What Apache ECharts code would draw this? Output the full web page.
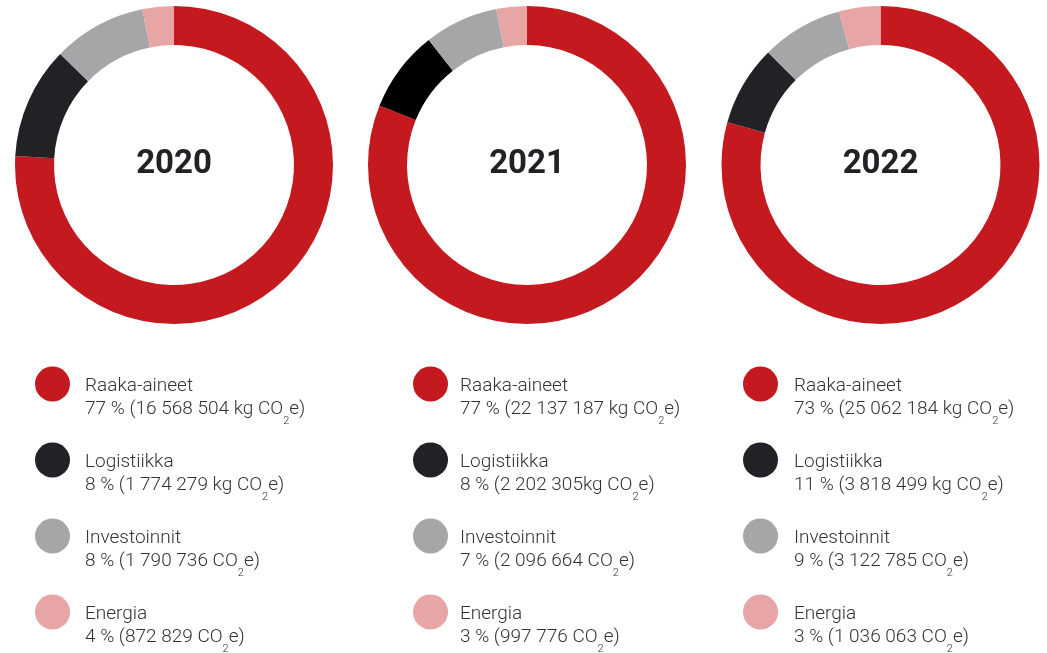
<!DOCTYPE html>
<html><head><meta charset="utf-8">
<script src="https://cdn.jsdelivr.net/npm/echarts@6/dist/echarts.min.js"></script>
<style>html,body{margin:0;padding:0;background:#fff}#c{width:1047px;height:653px}</style>
</head><body><div id="c"></div>
<script>
// ---- data ----
const years = ['2020', '2021', '2022'];
const categories = ['Raaka-aineet', 'Logistiikka', 'Investoinnit', 'Energia'];
// ring shares as drawn in each doughnut (percent of full circle)
const ring2020 = [75.9, 11.4, 9.5, 3.2];
const ring2021 = [81.1, 8.3, 7.5, 3.1];
const ring2022 = [79.4, 8.2, 8.3, 4.2];
// legend label values
const pct2020 = [77, 8, 8, 4];
const pct2021 = [77, 8, 7, 3];
const pct2022 = [73, 11, 9, 3];
const amount2020 = ['16 568 504 kg', '1 774 279 kg', '1 790 736', '872 829'];
const amount2021 = ['22 137 187 kg', '2 202 305kg', '2 096 664', '997 776'];
const amount2022 = ['25 062 184 kg', '3 818 499 kg', '3 122 785', '1 036 063'];

// ---- styles / layout ----
const rings = [ring2020, ring2021, ring2022];
const pcts = [pct2020, pct2021, pct2022];
const amounts = [amount2020, amount2021, amount2022];
const baseColors = ['#C4191E', '#222226', '#A6A6A8', '#E8A5A6'];
const ringColors = [baseColors, ['#C4191E', '#000000', '#A6A6A8', '#E8A5A6'], baseColors];
const centers = [[174, 165], [527, 165], [880.5, 165]];
const legendLeft = [35, 413, 743];
const textPad = [10, 7, 11];
const textColor = '#333336';
const FONT = 'Roboto, "Noto Sans", sans-serif';

const chart = echarts.init(document.getElementById('c'), null, {renderer: 'canvas'});

const series = years.map((y, k) => ({
  type: 'pie',
  name: y,
  center: centers[k],
  radius: [120, 159],
  startAngle: 90,
  clockwise: true,
  silent: true,
  animation: false,
  label: {show: false},
  labelLine: {show: false},
  emphasis: {disabled: true},
  itemStyle: {borderWidth: 0},
  data: categories.map((c, i) => ({name: c, value: rings[k][i], itemStyle: {color: ringColors[k][i]}}))
}));

const titles = years.map((y, k) => ({
  text: y,
  left: centers[k][0],
  top: 148,
  padding: 0,
  textAlign: 'center',
  textStyle: {fontFamily: FONT, fontWeight: 'bold', fontSize: 33, color: '#222226'}
}));

const legends = years.map((y, k) => ({
  orient: 'vertical',
  left: legendLeft[k],
  top: 347,
  height: 400,
  padding: 0,
  itemWidth: 35,
  itemHeight: 35,
  itemGap: -4,
  icon: 'circle',
  selectedMode: false,
  data: categories,
  formatter: function (name) {
    const i = categories.indexOf(name);
    return '{b| }\n{n|' + name + '}\n{v|' + pcts[k][i] + ' % (' + amounts[k][i] + ' CO}{s|2}{e|e)}';
  },
  textStyle: {
    fontFamily: FONT, fontSize: 19, lineHeight: 23, color: textColor,
    rich: {
      b: {fontFamily: FONT, fontSize: 19, lineHeight: 28},
      n: {fontFamily: FONT, fontSize: 19, fontWeight: 300, lineHeight: 23, color: textColor, padding: [0, 0, 0, textPad[k]]},
      v: {fontFamily: FONT, fontSize: 19, fontWeight: 300, lineHeight: 23, color: textColor, padding: [0, 0, 0, textPad[k]]},
      s: {fontFamily: FONT, fontSize: 11, fontWeight: 300, lineHeight: 1, color: textColor, verticalAlign: 'top', padding: [18, 0, 0, 0]},
      e: {fontFamily: FONT, fontSize: 19, fontWeight: 300, lineHeight: 23, color: textColor}
    }
  }
}));

chart.setOption({
  animation: false,
  backgroundColor: '#ffffff',
  title: titles,
  legend: legends,
  series: series
});
</script>
</body></html>
